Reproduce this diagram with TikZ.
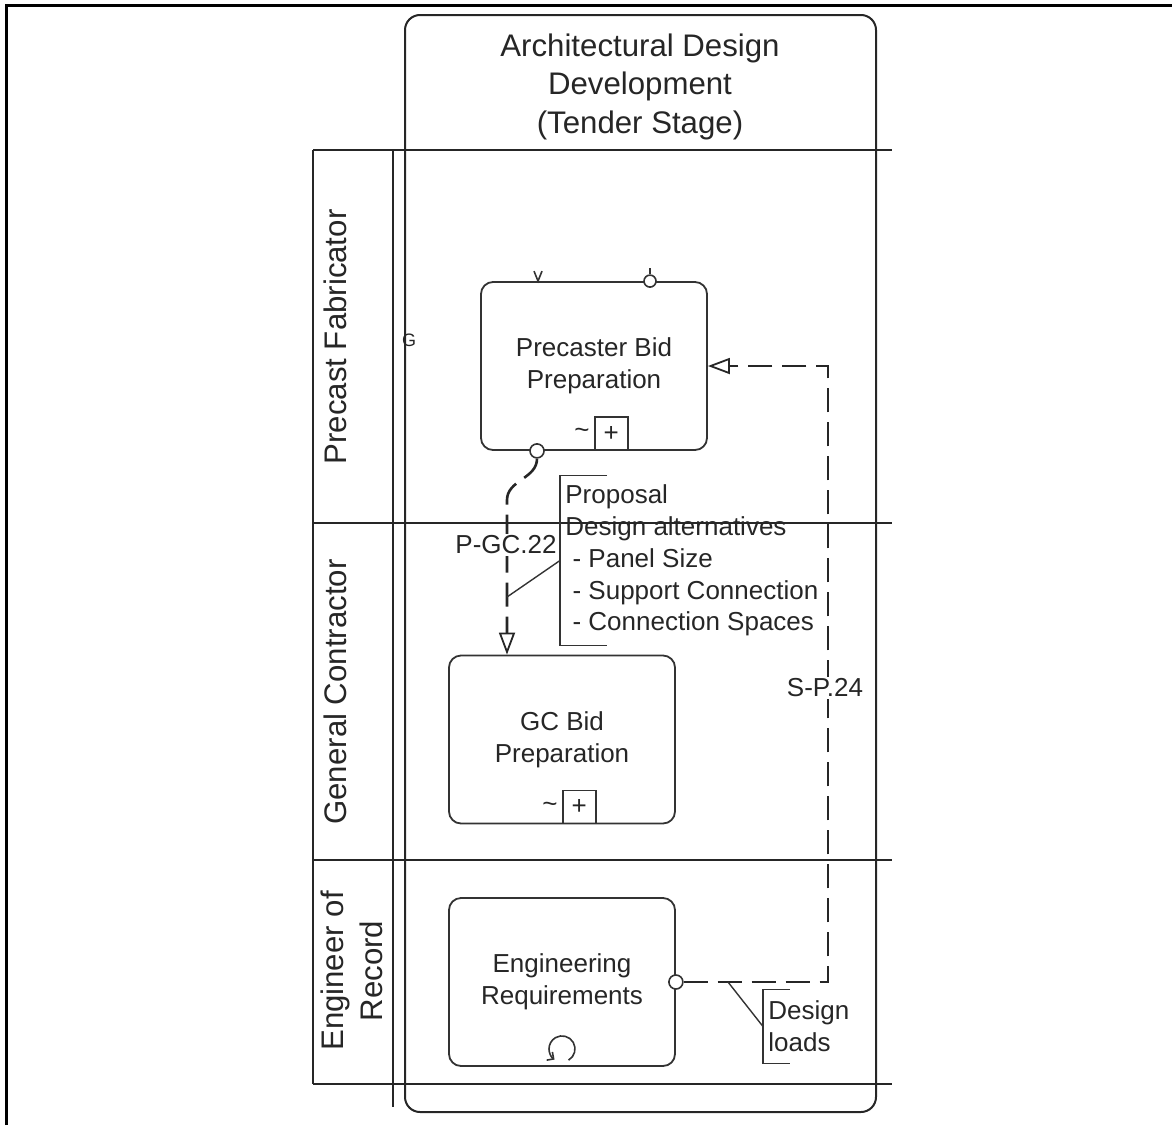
\documentclass[tikz,border=0pt]{standalone}
\usepackage{fontspec}
\setmainfont{Liberation Sans}
\usetikzlibrary{arrows.meta}

\begin{document}
\begin{tikzpicture}[x=0.5pt,y=-0.5pt,
  every node/.style={text=black!85},
  lane/.style={draw=black!85,line width=1pt},
  task/.style={draw=black!80,line width=0.9pt,rounded corners=6pt,minimum width=113pt,minimum height=84pt,align=center,font=\fontsize{13}{16}\selectfont},
  port/.style={draw=black!80,circle,fill=white,inner sep=0pt,minimum size=7pt,line width=0.8pt},
  plusbox/.style={draw=black!80,line width=0.8pt,minimum size=16.5pt,inner sep=0pt,font=\fontsize{13}{13}\selectfont},
  msg/.style={draw=black!85,line width=1.3pt,dash pattern=on 12pt off 5pt,-{Triangle[open,length=11pt,width=8pt,line width=0.9pt]}},
  note/.style={anchor=west,align=left,inner sep=2.5pt,font=\fontsize{13}{15.9}\selectfont},
  flowlabel/.style={fill=white,inner sep=1pt,font=\fontsize{13}{13}\selectfont},
  lanelabel/.style={rotate=90,align=center,font=\fontsize{15.6}{19.5}\selectfont}]
\useasboundingbox (0,0) rectangle (1172,1125);
\draw[line width=1.5pt] (6,1125) -- (6,5) -- (1172,5);

% lanes and pool
\foreach \y in {150,523,860,1084} \draw[lane] (313,\y) -- (892,\y);
\draw[lane] (313,150) -- (313,1084);
\draw[lane] (393,150) -- (393,1107);
\draw[lane,rounded corners=7.5pt] (405,15) rectangle (876,1112);
\node[font=\fontsize{15.6}{19.25}\selectfont,align=center] (title) at (640,86.5) {Architectural Design\\Development\\(Tender Stage)};
\node[lanelabel] (lanepf) at (335,337) {Precast Fabricator};
\node[lanelabel] (lanegc) at (335,692) {General Contractor};
\node[lanelabel] (laneeor) at (352,971) {Engineer of\\Record};
\node[font=\fontsize{9}{9}\selectfont,inner sep=0pt] (gmark) at (409,340) {G};

% tasks
\node[task] (pbp) at (594,366) {Precaster Bid\\Preparation};
\node[task] (gcb) at (562,739.5) {GC Bid\\Preparation};
\node[task] (eng) at (562,982) {Engineering\\Requirements};
\node[plusbox,anchor=south west] (pbpplus) at (pbp.south) {+};
\node[anchor=east,inner sep=2pt,font=\fontsize{13}{13}\selectfont] (pbptilde) at (pbpplus.west) {\textasciitilde};
\node[plusbox,anchor=south west] (gcbplus) at (gcb.south) {+};
\node[anchor=east,inner sep=2pt,font=\fontsize{13}{13}\selectfont] (gcbtilde) at (gcbplus.west) {\textasciitilde};
\draw[black!80,line width=0.8pt,-{Straight Barb[length=2.5pt]}] ([yshift=9pt]eng.south) ++(-60:6.5pt) arc[start angle=-60,end angle=235,radius=6.5pt];
\draw[black!80,line width=0.8pt] ([xshift=-30pt,yshift=5pt]pbp.north) -- ([xshift=-28pt]pbp.north) -- ([xshift=-26pt,yshift=5pt]pbp.north);
\node[port,minimum size=6pt] (pbpin) at ([xshift=28pt]pbp.north) {};
\draw[black!80,line width=0.8pt] (pbpin.north) -- ++(0,3pt);

% message flows
\node[port] (pgcstart) at ([xshift=-28.5pt]pbp.south) {};
\node[port] (spstart) at (eng.east) {};
\coordinate (pgcbend) at (507,500);
\coordinate (spright) at (828,982);
\draw[msg] (pgcstart.south) to[out=-90,in=90] (pgcbend) -- ([xshift=-27.5pt]gcb.north);
\draw[msg] (spstart.east) -- (spright) |- (pbp.east);
\node[flowlabel] (pgclabel) at (506,545) {P-GC.22};
\node[flowlabel] (splabel) at (825,688) {S-P.24};

% annotations
\node[note,minimum height=84.5pt] (proposal) at (560,560.5) {Proposal\\Design alternatives\\\hspace{3.6pt}- Panel Size\\\hspace{3.6pt}- Support Connection\\\hspace{3.6pt}- Connection Spaces};
\draw[black!80,line width=0.8pt] ([xshift=23.5pt]proposal.north west) -- (proposal.north west) -- (proposal.south west) -- ++(23.5pt,0);
\coordinate (pgcassoc) at (507,597);
\draw[black!80,line width=0.7pt] (pgcassoc) -- (proposal.west);
\node[note,minimum height=36.5pt] (loads) at (763,1026.5) {Design\\loads};
\draw[black!80,line width=0.8pt] ([xshift=13.5pt]loads.north west) -- (loads.north west) -- (loads.south west) -- ++(13.5pt,0);
\coordinate (spassoc) at (728,982);
\draw[black!80,line width=0.7pt] (spassoc) -- (loads.west);
\end{tikzpicture}
\end{document}
